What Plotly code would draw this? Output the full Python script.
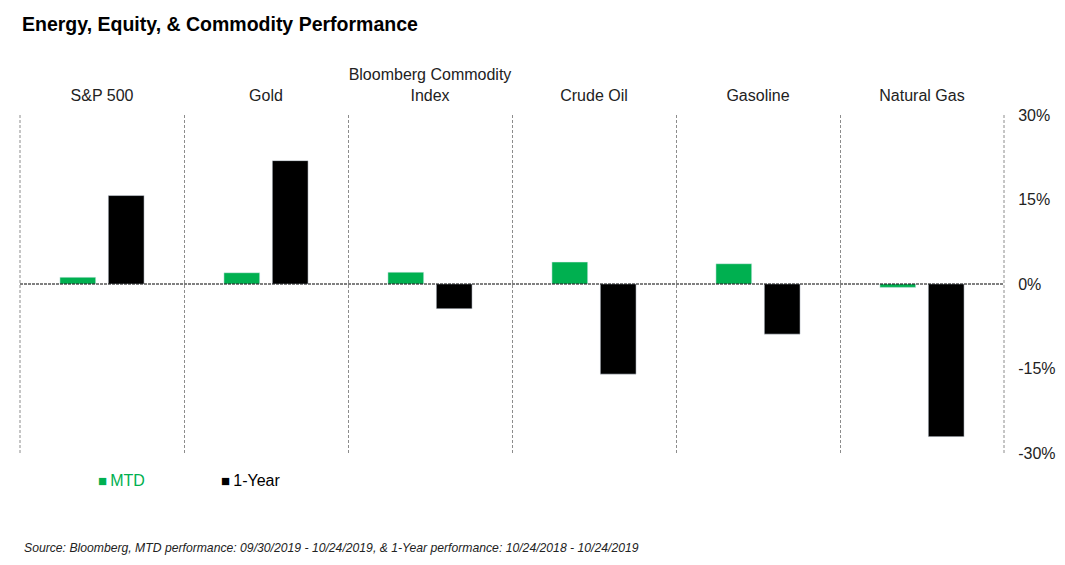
import plotly.graph_objects as go

# --- data (percent) ---
categories = ["S&P 500", "Gold", "Bloomberg Commodity<br>Index", "Crude Oil", "Gasoline", "Natural Gas"]
mtd = [1.2, 2.0, 2.1, 3.9, 3.6, -0.6]
one_year = [15.7, 21.9, -4.4, -16.0, -8.9, -27.1]
y_ticks = [30, 15, 0, -15, -30]
y_tick_text = ["30%", "15%", "0%", "-15%", "-30%"]

green = "#00B050"
black = "#000000"

fig = go.Figure()

fig.add_trace(go.Bar(x=categories, y=mtd, name="MTD", marker_color=green, hoverinfo="skip"))
fig.add_trace(go.Bar(x=categories, y=one_year, name="1-Year", marker_color=black, hoverinfo="skip"))

# dashed zero line + outer dashed borders
fig.add_shape(type="line", xref="paper", yref="y", x0=0, x1=1, y0=0, y1=0,
              line=dict(color="black", width=1, dash="3px,1px"))
for xp in (0, 1):
    fig.add_shape(type="line", xref="paper", yref="paper", x0=xp, x1=xp, y0=0, y1=1,
                  line=dict(color="#8c8c8c", width=1, dash="3px,2px"))

# legend drawn as text: small square + label
legend_items = [("MTD", green, 0.0773), ("1-Year", black, 0.2023)]
annotations = []
for label, col, xp in legend_items:
    annotations.append(dict(
        text=f"<span style='color:{col};font-size:15px'>■</span><span style='color:{col}'>\u2009{label}</span>",
        xref="paper", yref="paper", x=xp, y=-0.08, xanchor="left", yanchor="middle",
        showarrow=False, font=dict(size=16)))
annotations.append(dict(
    text="<i>Source: Bloomberg, MTD performance: 09/30/2019 - 10/24/2019, & 1-Year performance: 10/24/2018 - 10/24/2019</i>",
    xref="paper", yref="paper", x=0.002, y=-0.281, xanchor="left", yanchor="middle",
    showarrow=False, font=dict(size=12.2, color="#222222")))

fig.update_layout(
    width=1065, height=565,
    margin=dict(l=20, r=61, t=115, b=112),
    paper_bgcolor="white", plot_bgcolor="white",
    font=dict(family="Liberation Sans, Arial, sans-serif", size=16, color="#222222"),
    title=dict(text="<b>Energy, Equity, & Commodity Performance</b>",
               x=22 / 1065, xanchor="left", y=1 - 24 / 565, yanchor="middle",
               font=dict(size=19.5, color="black")),
    barmode="group", bargap=0.41, bargroupgap=0.26,
    showlegend=False,
    xaxis=dict(side="top", type="category", tickson="boundaries",
               ticks="", ticklabelstandoff=10,
               tickangle=0, automargin=False,
               showgrid=True, griddash="3px,2px", gridcolor="#8c8c8c", gridwidth=1,
               showline=False, zeroline=False, tickfont=dict(size=16, color="#222222")),
    yaxis=dict(side="right", range=[-30, 30], tickvals=y_ticks, ticktext=y_tick_text,
               automargin=False,
               showgrid=False, zeroline=False, showline=False,
               ticks="outside", ticklen=10, tickcolor="rgba(0,0,0,0)",
               tickfont=dict(size=16, color="#222222")),
    annotations=annotations,
)

# drop the browser's default page margin so the chart sits at (0, 0)
fig.write_html("out.html", config={"displayModeBar": False},
               post_script="document.body.style.margin='0';")
